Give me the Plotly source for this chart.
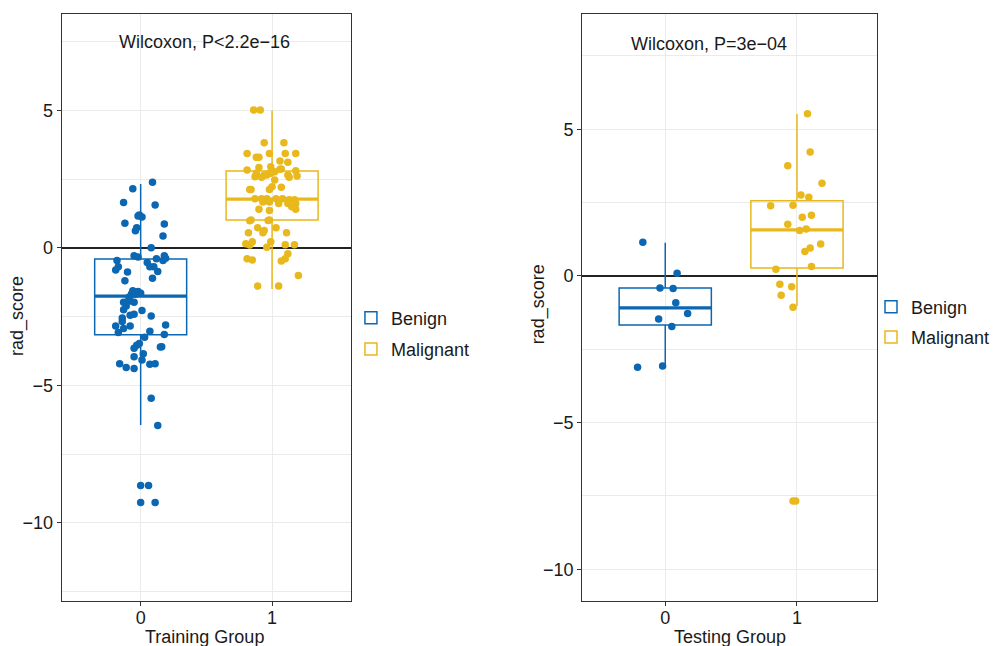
import plotly.graph_objects as go

# ---------------- data ----------------
groups = ["Benign", "Malignant"]
group_pos = [0, 1]
x_tick_labels = ["0", "1"]
y_tick_vals = [-10, -5, 0, 5]

# Training set values (rad_score) and horizontal jitter offsets
train_benign_y = [2.39, 2.15, 1.65, 1.56, 1.20, 1.13, 1.16, 0.90, 0.87, 0.74, 0.63, 0.44, 0.01,
                  -0.28, -0.33, -0.46, -0.28, -0.37, -0.46, -0.39, -0.53, -0.68, -0.68, -0.80,
                  -0.87, -0.68, -0.86, -1.10, -1.19, -1.56, -1.58, -1.65, -1.68, -1.67, -1.79,
                  -1.93, -1.97, -1.97, -2.11, -2.25, -2.27, -2.41, -2.45, -2.47, -2.55, -2.67,
                  -2.84, -2.84, -2.93, -3.07, -2.80, -3.03, -3.15, -3.25, -3.47, -3.54, -3.65,
                  -3.59, -3.60, -3.85, -3.96, -4.07, -4.21, -4.23, -4.21, -4.35, -4.38, -5.47,
                  -6.46, -8.64, -8.64, -9.26, -9.26]
train_benign_jit = [0.09, -0.06, -0.13, 0.11, -0.01, 0.01, -0.02, -0.12, 0.18, -0.03, -0.04, 0.17, 0.08,
                    -0.05, -0.02, -0.18, 0.18, 0.19, 0.17, 0.12, 0.05, 0.07, -0.17, -0.19,
                    -0.10, 0.10, 0.13, 0.09, -0.12, -0.06, -0.02, 0.00, -0.04, -0.07, -0.09,
                    -0.08, -0.13, -0.05, -0.11, -0.13, 0.01, -0.05, -0.08, 0.08, -0.14, -0.14,
                    -0.19, -0.08, -0.13, -0.17, 0.19, 0.07, 0.18, 0.03, -0.01, -0.03, -0.05,
                    0.16, 0.15, 0.02, -0.05, 0.01, -0.16, 0.07, 0.11, -0.11, -0.05, 0.08,
                    0.13, 0.00, 0.06, 0.00, 0.11]
train_malig_y = [5.02, 5.02, 3.83, 3.83, 3.44, 3.44, 3.44, 3.44, 3.30, 3.30, 3.16, 3.12, 2.93, 2.95,
                 2.87, 2.84, 2.81, 2.72, 2.65, 2.72, 2.77, 2.86, 2.65, 2.62, 2.59, 2.57, 2.65, 2.72,
                 2.57, 2.47, 2.13, 2.13, 2.13, 2.23, 2.21, 1.79, 1.79, 1.79, 1.79, 1.79, 1.75, 1.75,
                 1.67, 1.67, 1.62, 1.62, 1.62, 1.50, 1.41, 1.41, 1.36, 0.99, 1.02, 1.00, 1.02, 0.74,
                 0.74, 0.64, 0.55, 0.55, 0.55, 0.23, 0.23, 0.15, 0.11, 0.03, 0.12, 0.12, -0.21,
                 -0.39, -0.47, -0.39, -0.44, -1.00, -1.38, -1.38]
train_malig_jit = [-0.14, -0.09, -0.06, 0.09, -0.19, -0.02, 0.10, 0.18, -0.12, -0.10, 0.06, 0.12, -0.10, -0.01,
                   0.07, -0.19, 0.18, -0.12, -0.06, -0.02, 0.02, 0.06, 0.12, 0.19, -0.13, -0.08, -0.04, -0.01,
                   0.13, 0.02, -0.17, -0.16, -0.02, 0.00, 0.07, -0.13, -0.08, -0.04, 0.03, 0.08, 0.13, 0.17,
                   -0.07, -0.02, 0.05, 0.12, 0.18, 0.15, 0.18, -0.10, -0.02, -0.17, -0.16, -0.03, -0.02, -0.11,
                   0.03, -0.06, -0.18, 0.11, -0.07, -0.15, -0.01, -0.20, -0.17, -0.04, 0.10, 0.17, 0.12,
                   0.10, 0.07, -0.19, -0.15, 0.20, -0.11, 0.05]

# Testing set
test_benign_y = [1.15, 0.09, -0.41, -0.43, -0.91, -1.28, -1.47, -1.72, -3.11, -3.07]
test_benign_jit = [-0.17, 0.09, -0.04, 0.06, 0.08, 0.17, -0.05, 0.05, -0.21, -0.02]
test_malig_y = [5.53, 4.23, 3.76, 3.16, 2.76, 2.68, 2.39, 2.41, 2.07, 2.00, 1.76, 1.55, 1.60, 1.09,
                0.95, 0.83, 0.32, 0.23, -0.28, -0.37, -0.66, -1.07, -7.67, -7.67]
test_malig_jit = [0.08, 0.10, -0.07, 0.19, 0.03, 0.09, -0.20, -0.03, 0.11, 0.04, -0.07, 0.02, 0.07, 0.18,
                  0.10, 0.06, 0.11, -0.16, -0.13, -0.04, -0.12, -0.03, -0.01, -0.03]

# Box statistics as drawn (lower whisker, Q1, median, Q3, upper whisker)
train_box_low = [-6.44, -1.49]
train_box_q1 = [-3.16, 1.02]
train_box_med = [-1.75, 1.78]
train_box_q3 = [-0.40, 2.80]
train_box_up = [2.33, 5.00]
test_box_low = [-3.07, -1.02]
test_box_q1 = [-1.67, 0.27]
test_box_med = [-1.09, 1.57]
test_box_q3 = [-0.41, 2.56]
test_box_up = [1.13, 5.52]

p_labels = ["Wilcoxon, P<2.2e\u221216", "Wilcoxon, P=3e\u221204"]
x_titles = ["Training Group", "Testing Group"]
y_title = "rad_score"

# ---------------- style ----------------
COLORS = ["#0C67B3", "#E8B81C"]
FONT = "Liberation Sans, Arial, Helvetica, sans-serif"
TXT = "#1a1a1a"
BOX_W = 0.7
W, H = 995, 646

fig = go.Figure()

panels = [
    dict(xa="x", ya="y", legend="legend",
         ys=[train_benign_y, train_malig_y], js=[train_benign_jit, train_malig_jit],
         low=train_box_low, q1=train_box_q1, med=train_box_med, q3=train_box_q3, up=train_box_up),
    dict(xa="x2", ya="y2", legend="legend2",
         ys=[test_benign_y, test_malig_y], js=[test_benign_jit, test_malig_jit],
         low=test_box_low, q1=test_box_q1, med=test_box_med, q3=test_box_q3, up=test_box_up),
]

for k, p in enumerate(panels):
    for i, g in enumerate(groups):
        c = COLORS[i]
        lg = f"{g}{k}"
        fig.add_trace(go.Box(
            x=[group_pos[i]], q1=[p["q1"][i]], median=[p["med"][i]], q3=[p["q3"][i]],
            lowerfence=[p["low"][i]], upperfence=[p["up"][i]],
            width=BOX_W, boxpoints=False, whiskerwidth=0,
            line=dict(color=c, width=1.5), fillcolor="rgba(255,255,255,0)",
            name=g, legend=p["legend"], legendgroup=lg, showlegend=True,
            xaxis=p["xa"], yaxis=p["ya"], hoverinfo="skip"))
        # thicker median line (ggplot fatten)
        fig.add_trace(go.Scatter(
            x=[group_pos[i] - BOX_W / 2, group_pos[i] + BOX_W / 2], y=[p["med"][i]] * 2,
            mode="lines", line=dict(color=c, width=3.2), showlegend=False,
            legend=p["legend"], legendgroup=lg,
            xaxis=p["xa"], yaxis=p["ya"], hoverinfo="skip"))
        fig.add_trace(go.Scatter(
            x=[group_pos[i] + j for j in p["js"][i]], y=p["ys"][i],
            mode="markers", marker=dict(color=c, size=7.5, line=dict(width=0)),
            showlegend=False, legend=p["legend"], legendgroup=lg,
            xaxis=p["xa"], yaxis=p["ya"]))

axis_common = dict(
    showline=True, mirror=True, linecolor="#333333", linewidth=1.2,
    ticks="outside", ticklen=4, tickcolor="#333333", tickwidth=1,
    gridcolor="#EBEBEB", gridwidth=1,
    tickfont=dict(family=FONT, size=18, color=TXT),
    automargin=False,
)
yaxis_extra = dict(
    tickvals=y_tick_vals, zeroline=True, zerolinecolor="#222222", zerolinewidth=1.5,
    minor=dict(dtick=2.5, tick0=0, showgrid=True, gridcolor="#EBEBEB", ticks=""),
)

y0, y1 = (H - 601) / H, (H - 14) / H
fig.update_layout(
    width=W, height=H,
    margin=dict(l=0, r=0, t=0, b=0),
    paper_bgcolor="white", plot_bgcolor="white",
    font=dict(family=FONT, size=18, color=TXT),
    xaxis=dict(domain=[62 / W, 352 / W], range=[-0.6, 1.6], tickvals=group_pos, ticktext=x_tick_labels,
               zeroline=False, ticklabelstandoff=-4, anchor="y", **axis_common),
    yaxis=dict(domain=[y0, y1], range=[-12.84, 8.51], anchor="x", **axis_common, **yaxis_extra),
    xaxis2=dict(domain=[584 / W, 880 / W], range=[-0.63, 1.61], tickvals=group_pos, ticktext=x_tick_labels,
                zeroline=False, ticklabelstandoff=-4, anchor="y2", **axis_common),
    yaxis2=dict(domain=[y0, y1], range=[-11.08, 8.93], anchor="x2", **axis_common, **yaxis_extra),
    legend=dict(x=352 / W, y=1 - 333.5 / H, xanchor="left", yanchor="middle",
                traceorder="grouped", tracegroupgap=5,
                bgcolor="rgba(0,0,0,0)", font=dict(size=18, color=TXT)),
    legend2=dict(x=874 / W, y=1 - 322 / H, xanchor="left", yanchor="middle",
                 traceorder="grouped", tracegroupgap=4,
                 bgcolor="rgba(0,0,0,0)", font=dict(size=18, color=TXT)),
    showlegend=True,
)

# axis titles
title_font = dict(size=18, color=TXT)
fig.add_annotation(x=205 / W, y=1 - 637 / H, xref="paper", yref="paper", text=x_titles[0],
                   xanchor="center", yanchor="middle", showarrow=False, font=title_font)
fig.add_annotation(x=732 / W, y=1 - 637 / H, xref="paper", yref="paper", text=x_titles[1],
                   xanchor="center", yanchor="middle", showarrow=False, font=title_font)
fig.add_annotation(x=17 / W, y=1 - 316 / H, xref="paper", yref="paper", text=y_title, textangle=-90,
                   xanchor="center", yanchor="middle", showarrow=False, font=title_font)
fig.add_annotation(x=540 / W, y=1 - 304 / H, xref="paper", yref="paper", text=y_title, textangle=-90,
                   xanchor="center", yanchor="middle", showarrow=False, font=title_font)

# p-value labels
fig.add_annotation(x=0.485, y=7.49, xref="x", yref="y", text=p_labels[0], showarrow=False,
                   xanchor="center", yanchor="middle", font=title_font)
fig.add_annotation(x=0.33, y=7.9, xref="x2", yref="y2", text=p_labels[1], showarrow=False,
                   xanchor="center", yanchor="middle", font=title_font)

fig.write_html("out.html")
